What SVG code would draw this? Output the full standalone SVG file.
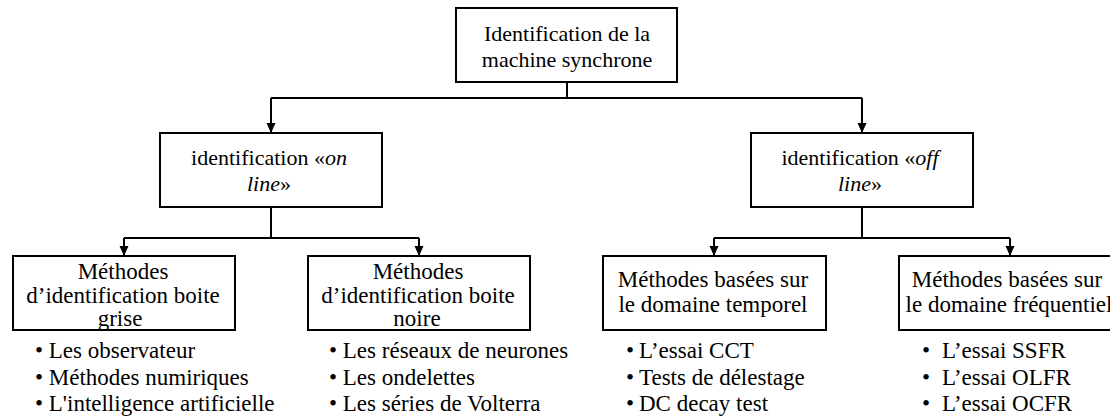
<svg xmlns="http://www.w3.org/2000/svg" width="1110" height="420" viewBox="0 0 1110 420">
<defs>
<style>
.box{fill:#fff;stroke:#000;stroke-width:2}
.t{font-family:"Liberation Serif","Times New Roman",serif;font-size:22px;fill:#000;text-anchor:middle}
.m{font-family:"Liberation Serif","Times New Roman",serif;font-size:23px;fill:#000;text-anchor:middle}
.b{font-family:"Liberation Serif","Times New Roman",serif;font-size:23px;fill:#000}
.c{fill:none;stroke:#000;stroke-width:2}
</style>
<marker id="ah" markerUnits="userSpaceOnUse" markerWidth="10" markerHeight="10" refX="10" refY="4.5" orient="auto">
<path d="M0,0 L10,4.5 L0,9 z" fill="#000"/>
</marker>
</defs>
<rect width="1110" height="420" fill="#fff"/>
<g id="connectors">
<path class="c" d="M567,82 V98"/>
<path class="c" d="M271,98 H862"/>
<path class="c" d="M271,98 V133" marker-end="url(#ah)"/>
<path class="c" d="M862,98 V133" marker-end="url(#ah)"/>
<path class="c" d="M271,207 V238"/>
<path class="c" d="M124,238 H419"/>
<path class="c" d="M124,238 V256" marker-end="url(#ah)"/>
<path class="c" d="M419,238 V256" marker-end="url(#ah)"/>
<path class="c" d="M862,207 V238"/>
<path class="c" d="M714,238 H1010"/>
<path class="c" d="M714,238 V256" marker-end="url(#ah)"/>
<path class="c" d="M1010,238 V256" marker-end="url(#ah)"/>
</g>
<g id="root">
<rect class="box" x="456" y="8" width="221" height="74"/>
<text class="t" x="567" y="40.5">Identification de la</text>
<text class="t" x="567" y="67">machine synchrone</text>
</g>
<g id="online">
<rect class="box" x="160" y="133" width="222" height="74"/>
<text class="t" x="269" y="165">identification «<tspan font-style="italic">on</tspan></text>
<text class="t" x="269" y="191"><tspan font-style="italic">line</tspan>»</text>
</g>
<g id="offline">
<rect class="box" x="751" y="133" width="222" height="74"/>
<text class="t" x="860" y="165">identification «<tspan font-style="italic">off</tspan></text>
<text class="t" x="860" y="191"><tspan font-style="italic">line</tspan>»</text>
</g>
<g id="grise">
<rect class="box" x="13" y="256" width="222" height="74"/>
<text class="m" x="123" y="279">Méthodes</text>
<text class="m" x="123" y="303">d’identification boite</text>
<text class="m" x="120" y="326">grise</text>
<text class="b" x="35" y="358">• Les observateur</text>
<text class="b" x="35" y="385">• Méthodes numiriques</text>
<text class="b" x="35" y="411">• L'intelligence artificielle</text>
</g>
<g id="noire">
<rect class="box" x="308" y="256" width="222" height="74"/>
<text class="m" x="418" y="279">Méthodes</text>
<text class="m" x="418" y="303">d’identification boite</text>
<text class="m" x="417" y="326">noire</text>
<text class="b" x="329" y="358">• Les réseaux de neurones</text>
<text class="b" x="329" y="385">• Les ondelettes</text>
<text class="b" x="329" y="411">• Les séries de Volterra</text>
</g>
<g id="temporel">
<rect class="box" x="603" y="256" width="223" height="74"/>
<text class="m" x="713" y="287">Méthodes basées sur</text>
<text class="m" x="713" y="312">le domaine temporel</text>
<text class="b" x="626" y="358">•<tspan x="639">L’essai CCT</tspan></text>
<text class="b" x="626" y="385">•<tspan x="639">Tests de délestage</tspan></text>
<text class="b" x="626" y="411">•<tspan x="639">DC decay test</tspan></text>
</g>
<g id="frequentiel">
<rect class="box" x="899" y="256" width="222" height="74"/>
<text class="m" x="1007" y="287">Méthodes basées sur</text>
<text class="m" x="1009" y="312">le domaine fréquentiel</text>
<text class="b" x="922" y="358">•<tspan x="942">L’essai SSFR</tspan></text>
<text class="b" x="922" y="385">•<tspan x="942">L’essai OLFR</tspan></text>
<text class="b" x="922" y="411">•<tspan x="942">L’essai OCFR</tspan></text>
</g>
</svg>
